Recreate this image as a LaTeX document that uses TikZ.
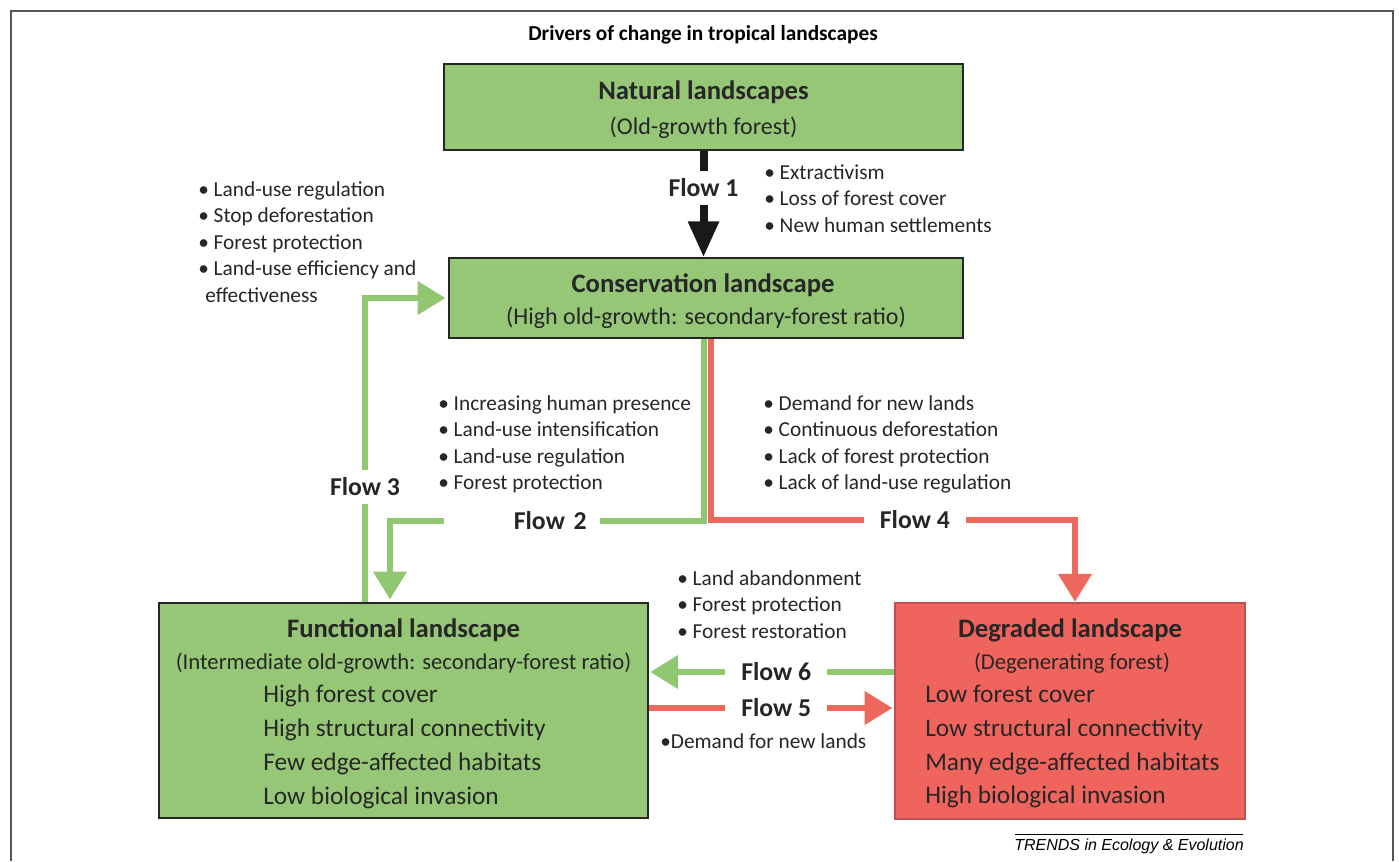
\documentclass[tikz,border=0pt]{standalone}
\usepackage{fontspec}
\setmainfont{Carlito}
\newfontfamily\trendsfont{Liberation Sans}
\usetikzlibrary{positioning,arrows.meta}
\definecolor{landgreen}{RGB}{150,199,119}
\definecolor{flowgreen}{RGB}{146,199,113}
\definecolor{landred}{RGB}{240,100,94}
\definecolor{landredline}{RGB}{192,80,77}
\definecolor{flowred}{RGB}{238,104,94}
\definecolor{framegray}{RGB}{85,85,85}
\tikzstyle{greenland} = [rectangle, draw=black!85, line width=1.1pt, fill=landgreen]
\tikzstyle{redland} = [rectangle, draw=landredline, line width=1.6pt, fill=landred]
\tikzstyle{boxhead} = [font=\fontsize{20}{24}\selectfont\bfseries, text=black!85]
\tikzstyle{boxsub} = [font=\fontsize{18}{21}\selectfont, text=black!85]
\tikzstyle{boxlist} = [align=left, anchor=north west, inner sep=0pt, text=black!85, font=\fontsize{19}{25.3}\selectfont]
\tikzstyle{bullets} = [align=left, anchor=north west, inner sep=0pt, text=black!85, font=\fontsize{16}{19.9}\selectfont]
\tikzstyle{flowlab} = [fill=white, inner xsep=12pt, inner ysep=3pt, text=black!85, font=\fontsize{19.3}{22}\selectfont\bfseries]
\tikzstyle{greenflow} = [line width=5.2pt, draw=flowgreen, -{Triangle[width=24pt,length=21pt]}]
\tikzstyle{redflow} = [line width=5.2pt, draw=flowred, -{Triangle[width=24pt,length=21pt]}]
\tikzstyle{blackflow} = [line width=6pt, draw=black!90, -{Triangle[width=22pt,length=27pt]}]

\begin{document}
\begin{tikzpicture}[x=0.75pt,y=-0.75pt]
\useasboundingbox (0,0) rectangle (1399,861);
\draw[framegray, line width=1.5pt] (11,861) -- (11,11) -- (1393,11) -- (1393,861);
\node (title) at (703,35) {\fontsize{16}{18}\selectfont\bfseries Drivers of change in tropical landscapes};

% landscape boxes
\node (natural) [greenland, minimum width=389pt, minimum height=64.5pt] at (703.5,107) {};
\node (conservation) [greenland, minimum width=385.5pt, minimum height=60pt] at (706,298) {};
\node (functional) [greenland, minimum width=366.75pt, minimum height=161.25pt] at (403.5,710.5) {};
\node (degraded) [redland, minimum width=262.5pt, minimum height=162pt] at (1070,711) {};

\node (naturalhead) [boxhead] at (703.5,92) {Natural landscapes};
\node (naturalsub) [boxsub] at (703.5,128) {(Old-growth forest)};
\node (conservhead) [boxhead] at (703,285) {Conservation landscape};
\node (conservsub) [boxsub] at (706,318) {(High old-growth: secondary-forest ratio)};
\node (funchead) [boxhead] at (403.5,630) {Functional landscape};
\node (funcsub) [boxsub, font=\fontsize{17}{20}\selectfont] at (403.5,663) {(Intermediate old-growth: secondary-forest ratio)};
\node (funclist) [boxlist] at (263,685) {High forest cover\\High structural connectivity\\Few edge-affected habitats\\Low biological invasion};
\node (degradhead) [boxhead] at (1070,630) {Degraded landscape};
\node (degradsub) [boxsub, font=\fontsize{17}{20}\selectfont] at (1072,663) {(Degenerating forest)};
\node (degradlist) [boxlist] at (925,685) {Low forest cover\\Low structural connectivity\\Many edge-affected habitats\\High biological invasion};

% drivers
\node (natdrivers) [bullets] at (764,164) {• Extractivism\\• Loss of forest cover\\• New human settlements};
\node (leftdrivers) [bullets] at (198,181) {• Land-use regulation\\• Stop deforestation\\• Forest protection\\• Land-use efficiency and\\\hspace*{5.3pt}effectiveness};
\node (middrivers) [bullets] at (438,395) {• Increasing human presence\\• Land-use intensification\\• Land-use regulation\\• Forest protection};
\node (rightdrivers) [bullets] at (763,395) {• Demand for new lands\\• Continuous deforestation\\• Lack of forest protection\\• Lack of land-use regulation};
\node (lowdrivers) [bullets] at (677,570) {• Land abandonment\\• Forest protection\\• Forest restoration};
\node (demand) [bullets] at (660,733) {•Demand for new lands};

% flows
\draw[blackflow] (natural.south) -- node[flowlab, pos=0.35, inner ysep=6pt]{Flow 1} (natural.south |- conservation.north);
\draw[redflow] (711,0 |- conservation.south) -- (711,520) -- node[flowlab, pos=0.56]{Flow 4} (1075,520) -- (1075,0 |- degraded.north);
\draw[greenflow] (704,0 |- conservation.south) -- (704,521) -- node[flowlab, pos=0.58, inner xsep=10pt, text width=97pt, align=right]{Flow 2} (390,521) -- ([yshift=2pt]390,0 |- functional.north);
\draw[greenflow, shorten >=2pt] (365,0 |- functional.north) -- node[flowlab, pos=0.38, inner ysep=6pt]{Flow 3} (365,0 |- conservation.west) -- (conservation.west);
\draw[greenflow, shorten >=1pt] (degraded.west |- 0,672) -- node[flowlab, pos=0.48]{Flow 6} (functional.east |- 0,672);
\draw[redflow, shorten >=1pt] (functional.east |- 0,708) -- node[flowlab, pos=0.52]{Flow 5} (degraded.west |- 0,708);

% source line
\draw[black, line width=0.6pt] (1015,834) -- (1243,834);
\node (source) at (1129,846) {\trendsfont\itshape\fontsize{12}{14}\selectfont TRENDS in Ecology \& Evolution};
\end{tikzpicture}
\end{document}
